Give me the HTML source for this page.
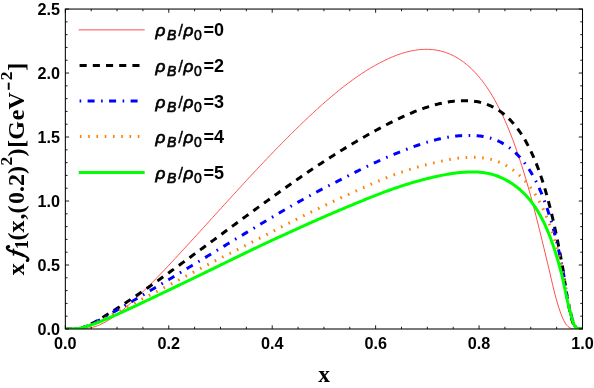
<!DOCTYPE html>
<html><head><meta charset="utf-8"><title>plot</title>
<style>html,body{margin:0;padding:0;background:#fff;}body{width:594px;height:388px;position:relative;overflow:hidden;font-family:"Liberation Sans",sans-serif;}</style>
</head><body>
<svg width="594" height="388" viewBox="0 0 594 388" style="position:absolute;left:0;top:0;will-change:transform">
<clipPath id="c"><rect x="65.35" y="7.050000000000001" width="517.15" height="322.05"/></clipPath>
<g clip-path="url(#c)" fill="none" stroke-linejoin="round">
<path d="M65.50,329.00 L66.79,329.00 L68.08,329.00 L69.38,329.00 L70.67,329.00 L71.96,329.00 L73.25,329.00 L74.55,329.00 L75.84,329.00 L77.13,328.99 L78.42,328.98 L79.72,328.96 L81.01,328.92 L82.30,328.87 L83.59,328.79 L84.89,328.69 L86.18,328.55 L87.47,328.38 L88.77,328.17 L90.06,327.93 L91.35,327.64 L92.64,327.32 L93.94,326.96 L95.23,326.55 L96.52,326.10 L97.81,325.62 L99.11,325.09 L100.40,324.53 L101.69,323.93 L102.98,323.30 L104.28,322.63 L105.57,321.92 L106.86,321.19 L108.15,320.42 L109.44,319.62 L110.74,318.80 L112.03,317.94 L113.32,317.06 L114.62,316.15 L115.91,315.22 L117.20,314.27 L118.49,313.30 L119.78,312.30 L121.08,311.28 L122.37,310.25 L123.66,309.19 L124.96,308.12 L126.25,307.03 L127.54,305.92 L128.83,304.80 L130.12,303.67 L131.42,302.52 L132.71,301.36 L134.00,300.18 L135.30,298.99 L136.59,297.79 L137.88,296.58 L139.17,295.36 L140.46,294.13 L141.76,292.89 L143.05,291.63 L144.34,290.37 L145.63,289.11 L146.93,287.83 L148.22,286.55 L149.51,285.25 L150.81,283.95 L152.10,282.65 L153.39,281.34 L154.68,280.02 L155.98,278.69 L157.27,277.36 L158.56,276.03 L159.85,274.69 L161.14,273.34 L162.44,271.99 L163.73,270.63 L165.02,269.27 L166.31,267.91 L167.61,266.54 L168.90,265.17 L170.19,263.80 L171.49,262.42 L172.78,261.04 L174.07,259.65 L175.36,258.26 L176.66,256.87 L177.95,255.48 L179.24,254.08 L180.53,252.69 L181.82,251.28 L183.12,249.88 L184.41,248.48 L185.70,247.07 L187.00,245.66 L188.29,244.25 L189.58,242.84 L190.87,241.43 L192.16,240.01 L193.46,238.60 L194.75,237.18 L196.04,235.76 L197.34,234.35 L198.63,232.93 L199.92,231.50 L201.21,230.08 L202.50,228.66 L203.80,227.24 L205.09,225.82 L206.38,224.39 L207.68,222.97 L208.97,221.55 L210.26,220.12 L211.55,218.70 L212.85,217.28 L214.14,215.85 L215.43,214.43 L216.72,213.01 L218.01,211.58 L219.31,210.16 L220.60,208.74 L221.89,207.32 L223.19,205.90 L224.48,204.48 L225.77,203.06 L227.06,201.64 L228.35,200.23 L229.65,198.81 L230.94,197.39 L232.23,195.98 L233.53,194.57 L234.82,193.16 L236.11,191.75 L237.40,190.34 L238.70,188.93 L239.99,187.52 L241.28,186.12 L242.57,184.72 L243.87,183.32 L245.16,181.92 L246.45,180.52 L247.74,179.13 L249.03,177.73 L250.33,176.34 L251.62,174.95 L252.91,173.57 L254.20,172.18 L255.50,170.80 L256.79,169.42 L258.08,168.04 L259.38,166.67 L260.67,165.30 L261.96,163.93 L263.25,162.56 L264.55,161.20 L265.84,159.84 L267.13,158.48 L268.42,157.13 L269.72,155.78 L271.01,154.43 L272.30,153.09 L273.59,151.75 L274.88,150.41 L276.18,149.07 L277.47,147.74 L278.76,146.42 L280.06,145.09 L281.35,143.78 L282.64,142.46 L283.93,141.15 L285.23,139.84 L286.52,138.54 L287.81,137.24 L289.10,135.95 L290.39,134.66 L291.69,133.38 L292.98,132.10 L294.27,130.82 L295.56,129.55 L296.86,128.28 L298.15,127.02 L299.44,125.77 L300.74,124.52 L302.03,123.27 L303.32,122.03 L304.61,120.80 L305.90,119.57 L307.20,118.35 L308.49,117.13 L309.78,115.92 L311.08,114.71 L312.37,113.52 L313.66,112.32 L314.95,111.14 L316.25,109.96 L317.54,108.78 L318.83,107.62 L320.12,106.45 L321.41,105.30 L322.71,104.15 L324.00,103.02 L325.29,101.88 L326.58,100.76 L327.88,99.64 L329.17,98.53 L330.46,97.43 L331.75,96.33 L333.05,95.25 L334.34,94.17 L335.63,93.10 L336.93,92.04 L338.22,90.98 L339.51,89.94 L340.80,88.90 L342.10,87.88 L343.39,86.86 L344.68,85.86 L345.97,84.86 L347.27,83.88 L348.56,82.91 L349.85,81.94 L351.14,80.99 L352.44,80.05 L353.73,79.12 L355.02,78.21 L356.31,77.30 L357.61,76.40 L358.90,75.52 L360.19,74.65 L361.48,73.78 L362.78,72.94 L364.07,72.10 L365.36,71.27 L366.65,70.46 L367.94,69.65 L369.24,68.86 L370.53,68.09 L371.82,67.32 L373.12,66.57 L374.41,65.83 L375.70,65.10 L376.99,64.38 L378.28,63.68 L379.58,62.99 L380.87,62.32 L382.16,61.65 L383.45,61.00 L384.75,60.37 L386.04,59.75 L387.33,59.14 L388.62,58.55 L389.92,57.97 L391.21,57.40 L392.50,56.86 L393.80,56.32 L395.09,55.81 L396.38,55.31 L397.67,54.83 L398.97,54.37 L400.26,53.93 L401.55,53.50 L402.84,53.09 L404.13,52.71 L405.43,52.34 L406.72,51.99 L408.01,51.66 L409.31,51.35 L410.60,51.06 L411.89,50.79 L413.18,50.54 L414.48,50.32 L415.77,50.11 L417.06,49.93 L418.35,49.77 L419.65,49.64 L420.94,49.52 L422.23,49.44 L423.52,49.37 L424.82,49.33 L426.11,49.32 L427.40,49.33 L428.69,49.37 L429.98,49.43 L431.28,49.52 L432.57,49.64 L433.86,49.78 L435.15,49.96 L436.45,50.16 L437.74,50.39 L439.03,50.65 L440.32,50.95 L441.62,51.27 L442.91,51.63 L444.20,52.01 L445.50,52.43 L446.79,52.89 L448.08,53.37 L449.37,53.90 L450.67,54.45 L451.96,55.05 L453.25,55.68 L454.54,56.34 L455.83,57.05 L457.13,57.79 L458.42,58.58 L459.71,59.40 L461.00,60.27 L462.30,61.17 L463.59,62.11 L464.88,63.10 L466.18,64.13 L467.47,65.20 L468.76,66.32 L470.05,67.48 L471.35,68.69 L472.64,69.94 L473.93,71.25 L475.22,72.60 L476.52,74.01 L477.81,75.47 L479.10,76.98 L480.39,78.55 L481.69,80.17 L482.98,81.85 L484.27,83.60 L485.56,85.40 L486.86,87.26 L488.15,89.18 L489.44,91.17 L490.73,93.23 L492.03,95.35 L493.32,97.54 L494.61,99.80 L495.90,102.14 L497.19,104.54 L498.49,107.02 L499.78,109.58 L501.07,112.22 L502.37,114.93 L503.66,117.71 L504.95,120.58 L506.24,123.53 L507.53,126.56 L508.83,129.68 L510.12,132.88 L511.41,136.16 L512.70,139.54 L514.00,143.00 L515.29,146.55 L516.58,150.19 L517.88,153.92 L519.17,157.75 L520.46,161.67 L521.75,165.68 L523.05,169.79 L524.34,173.99 L525.63,178.28 L526.92,182.67 L528.22,187.15 L529.51,191.72 L530.80,196.39 L532.09,201.14 L533.38,205.98 L534.68,210.89 L535.97,215.89 L537.26,220.96 L538.56,226.10 L539.85,231.31 L541.14,236.56 L542.43,241.86 L543.73,247.20 L545.02,252.55 L546.31,257.92 L547.60,263.27 L548.89,268.60 L550.11,273.89 L551.30,279.10 L552.49,284.22 L553.68,289.22 L554.88,294.07 L556.15,298.73 L557.44,303.16 L558.74,307.34 L560.03,311.22 L561.32,314.77 L562.61,317.94 L563.90,320.72 L565.20,323.07 L566.49,324.98 L567.97,326.46 L569.39,327.54 L570.77,328.26 L572.12,328.68 L573.44,328.89 L574.74,328.98 L576.04,329.00 L577.33,329.00 L578.62,329.00 L579.91,329.00 L581.21,329.00 L582.50,329.00" stroke="#ff0000" stroke-width="0.7"/>
<path d="M65.50,329.00 L66.79,329.00 L68.08,329.00 L69.38,329.00 L70.67,328.99 L71.96,328.95 L73.25,328.92 L74.55,328.92 L75.84,328.90 L77.13,328.84 L78.42,328.70 L79.72,328.44 L81.01,328.08 L82.30,327.66 L83.59,327.21 L84.89,326.72 L86.18,326.20 L87.47,325.64 L88.77,325.06 L90.06,324.45 L91.35,323.82 L92.64,323.17 L93.94,322.50 L95.23,321.81 L96.52,321.10 L97.81,320.37 L99.11,319.61 L100.40,318.84 L101.69,318.05 L102.98,317.25 L104.28,316.45 L105.57,315.64 L106.86,314.83 L108.15,314.02 L109.44,313.22 L110.74,312.43 L112.03,311.63 L113.32,310.83 L114.62,310.01 L115.91,309.20 L117.20,308.37 L118.49,307.54 L119.78,306.71 L121.08,305.87 L122.37,305.03 L123.66,304.18 L124.96,303.33 L126.25,302.47 L127.54,301.61 L128.83,300.75 L130.12,299.88 L131.42,299.01 L132.71,298.13 L134.00,297.26 L135.30,296.38 L136.59,295.49 L137.88,294.61 L139.17,293.72 L140.46,292.82 L141.76,291.93 L143.05,291.03 L144.34,290.13 L145.63,289.23 L146.93,288.33 L148.22,287.42 L149.51,286.52 L150.81,285.61 L152.10,284.70 L153.39,283.78 L154.68,282.87 L155.98,281.95 L157.27,281.03 L158.56,280.11 L159.85,279.19 L161.14,278.27 L162.44,277.34 L163.73,276.42 L165.02,275.49 L166.31,274.56 L167.61,273.63 L168.90,272.70 L170.19,271.77 L171.49,270.84 L172.78,269.90 L174.07,268.97 L175.36,268.03 L176.66,267.09 L177.95,266.15 L179.24,265.21 L180.53,264.27 L181.82,263.33 L183.12,262.39 L184.41,261.45 L185.70,260.51 L187.00,259.56 L188.29,258.62 L189.58,257.67 L190.87,256.73 L192.16,255.78 L193.46,254.84 L194.75,253.89 L196.04,252.94 L197.34,251.99 L198.63,251.04 L199.92,250.09 L201.21,249.15 L202.50,248.20 L203.80,247.25 L205.09,246.30 L206.38,245.35 L207.68,244.39 L208.97,243.44 L210.26,242.49 L211.55,241.54 L212.85,240.59 L214.14,239.64 L215.43,238.69 L216.72,237.74 L218.01,236.78 L219.31,235.83 L220.60,234.88 L221.89,233.93 L223.19,232.98 L224.48,232.03 L225.77,231.08 L227.06,230.12 L228.35,229.17 L229.65,228.22 L230.94,227.27 L232.23,226.32 L233.53,225.37 L234.82,224.42 L236.11,223.47 L237.40,222.53 L238.70,221.58 L239.99,220.63 L241.28,219.68 L242.57,218.73 L243.87,217.79 L245.16,216.84 L246.45,215.90 L247.74,214.95 L249.03,214.01 L250.33,213.06 L251.62,212.12 L252.91,211.18 L254.20,210.24 L255.50,209.29 L256.79,208.35 L258.08,207.41 L259.38,206.48 L260.67,205.54 L261.96,204.60 L263.25,203.66 L264.55,202.73 L265.84,201.79 L267.13,200.86 L268.42,199.93 L269.72,199.00 L271.01,198.07 L272.30,197.14 L273.59,196.21 L274.88,195.28 L276.18,194.35 L277.47,193.43 L278.76,192.51 L280.06,191.58 L281.35,190.66 L282.64,189.74 L283.93,188.82 L285.23,187.91 L286.52,186.99 L287.81,186.08 L289.10,185.17 L290.39,184.25 L291.69,183.34 L292.98,182.44 L294.27,181.53 L295.56,180.62 L296.86,179.72 L298.15,178.82 L299.44,177.92 L300.74,177.02 L302.03,176.13 L303.32,175.24 L304.61,174.35 L305.90,173.47 L307.20,172.59 L308.49,171.71 L309.78,170.84 L311.08,169.97 L312.37,169.11 L313.66,168.24 L314.95,167.38 L316.25,166.53 L317.54,165.68 L318.83,164.83 L320.12,163.98 L321.41,163.14 L322.71,162.29 L324.00,161.46 L325.29,160.62 L326.58,159.79 L327.88,158.96 L329.17,158.13 L330.46,157.30 L331.75,156.48 L333.05,155.66 L334.34,154.84 L335.63,154.03 L336.93,153.21 L338.22,152.40 L339.51,151.59 L340.80,150.79 L342.10,149.99 L343.39,149.19 L344.68,148.39 L345.97,147.60 L347.27,146.82 L348.56,146.03 L349.85,145.26 L351.14,144.48 L352.44,143.71 L353.73,142.95 L355.02,142.18 L356.31,141.42 L357.61,140.67 L358.90,139.92 L360.19,139.17 L361.48,138.42 L362.78,137.68 L364.07,136.94 L365.36,136.21 L366.65,135.48 L367.94,134.75 L369.24,134.03 L370.53,133.31 L371.82,132.59 L373.12,131.88 L374.41,131.17 L375.70,130.46 L376.99,129.76 L378.28,129.06 L379.58,128.36 L380.87,127.67 L382.16,126.98 L383.45,126.30 L384.75,125.62 L386.04,124.94 L387.33,124.28 L388.62,123.61 L389.92,122.96 L391.21,122.30 L392.50,121.66 L393.80,121.02 L395.09,120.38 L396.38,119.76 L397.67,119.13 L398.97,118.52 L400.26,117.91 L401.55,117.31 L402.84,116.72 L404.13,116.13 L405.43,115.55 L406.72,114.98 L408.01,114.42 L409.31,113.87 L410.60,113.32 L411.89,112.78 L413.18,112.25 L414.48,111.73 L415.77,111.22 L417.06,110.72 L418.35,110.23 L419.65,109.74 L420.94,109.27 L422.23,108.81 L423.52,108.35 L424.82,107.91 L426.11,107.48 L427.40,107.06 L428.69,106.65 L429.98,106.25 L431.28,105.87 L432.57,105.49 L433.86,105.13 L435.15,104.78 L436.45,104.44 L437.74,104.11 L439.03,103.80 L440.32,103.50 L441.62,103.21 L442.91,102.93 L444.20,102.67 L445.50,102.43 L446.79,102.20 L448.08,101.98 L449.37,101.78 L450.67,101.59 L451.96,101.42 L453.25,101.27 L454.54,101.13 L455.83,101.01 L457.13,100.91 L458.42,100.83 L459.71,100.76 L461.00,100.71 L462.30,100.68 L463.59,100.66 L464.88,100.66 L466.18,100.67 L467.47,100.71 L468.76,100.77 L470.05,100.84 L471.35,100.94 L472.64,101.07 L473.93,101.22 L475.22,101.39 L476.52,101.59 L477.81,101.82 L479.10,102.08 L480.39,102.37 L481.69,102.69 L482.98,103.04 L484.27,103.43 L485.56,103.85 L486.86,104.31 L488.15,104.81 L489.44,105.35 L490.73,105.93 L492.03,106.55 L493.32,107.21 L494.61,107.91 L495.90,108.65 L497.19,109.43 L498.49,110.25 L499.78,111.12 L501.07,112.04 L502.37,113.01 L503.66,114.02 L504.95,115.09 L506.24,116.21 L507.53,117.39 L508.83,118.63 L510.12,119.93 L511.41,121.28 L512.70,122.71 L514.00,124.20 L515.29,125.76 L516.58,127.39 L517.88,129.09 L519.17,130.88 L520.46,132.74 L521.75,134.69 L523.05,136.73 L524.34,138.86 L525.63,141.09 L526.92,143.41 L528.22,145.84 L529.51,148.37 L530.80,151.02 L532.09,153.79 L533.38,156.67 L534.68,159.69 L535.97,162.84 L537.26,166.12 L538.56,169.55 L539.85,173.14 L541.14,176.88 L542.43,180.78 L543.73,184.86 L545.02,189.12 L546.31,193.56 L547.60,198.19 L548.89,203.02 L550.19,208.05 L551.48,213.30 L552.77,218.76 L554.07,224.44 L555.36,230.35 L556.65,236.47 L557.94,242.81 L559.24,249.36 L560.53,256.10 L561.82,263.02 L563.11,270.07 L564.12,277.22 L565.12,284.41 L566.13,291.54 L567.28,298.52 L568.58,305.20 L569.87,311.40 L571.16,316.94 L572.45,321.57 L573.77,325.11 L575.64,327.42 L577.23,328.59 L578.61,328.96 L579.91,329.00 L581.21,329.00 L582.50,329.00" stroke="#000" stroke-width="3.0" stroke-dasharray="7.1,6.1"/>
<path d="M65.50,329.00 L66.79,329.00 L68.08,329.00 L69.38,329.00 L70.67,328.99 L71.96,328.96 L73.25,328.94 L74.55,328.94 L75.84,328.94 L77.13,328.88 L78.42,328.75 L79.72,328.50 L81.01,328.14 L82.30,327.74 L83.59,327.30 L84.89,326.83 L86.18,326.34 L87.47,325.81 L88.77,325.26 L90.06,324.69 L91.35,324.11 L92.64,323.50 L93.94,322.88 L95.23,322.25 L96.52,321.60 L97.81,320.94 L99.11,320.27 L100.40,319.57 L101.69,318.86 L102.98,318.12 L104.28,317.38 L105.57,316.62 L106.86,315.86 L108.15,315.10 L109.44,314.33 L110.74,313.57 L112.03,312.81 L113.32,312.06 L114.62,311.33 L115.91,310.60 L117.20,309.87 L118.49,309.14 L119.78,308.41 L121.08,307.67 L122.37,306.93 L123.66,306.19 L124.96,305.45 L126.25,304.71 L127.54,303.96 L128.83,303.21 L130.12,302.46 L131.42,301.71 L132.71,300.96 L134.00,300.21 L135.30,299.45 L136.59,298.70 L137.88,297.94 L139.17,297.18 L140.46,296.42 L141.76,295.66 L143.05,294.90 L144.34,294.14 L145.63,293.37 L146.93,292.61 L148.22,291.84 L149.51,291.08 L150.81,290.31 L152.10,289.54 L153.39,288.77 L154.68,288.00 L155.98,287.23 L157.27,286.46 L158.56,285.69 L159.85,284.92 L161.14,284.15 L162.44,283.38 L163.73,282.60 L165.02,281.83 L166.31,281.05 L167.61,280.28 L168.90,279.50 L170.19,278.73 L171.49,277.95 L172.78,277.17 L174.07,276.40 L175.36,275.62 L176.66,274.84 L177.95,274.06 L179.24,273.28 L180.53,272.50 L181.82,271.72 L183.12,270.95 L184.41,270.16 L185.70,269.38 L187.00,268.60 L188.29,267.82 L189.58,267.04 L190.87,266.26 L192.16,265.48 L193.46,264.69 L194.75,263.91 L196.04,263.13 L197.34,262.35 L198.63,261.56 L199.92,260.78 L201.21,260.00 L202.50,259.21 L203.80,258.43 L205.09,257.65 L206.38,256.86 L207.68,256.08 L208.97,255.30 L210.26,254.51 L211.55,253.73 L212.85,252.94 L214.14,252.16 L215.43,251.38 L216.72,250.59 L218.01,249.81 L219.31,249.02 L220.60,248.24 L221.89,247.46 L223.19,246.67 L224.48,245.89 L225.77,245.10 L227.06,244.32 L228.35,243.54 L229.65,242.75 L230.94,241.97 L232.23,241.19 L233.53,240.41 L234.82,239.62 L236.11,238.84 L237.40,238.06 L238.70,237.28 L239.99,236.50 L241.28,235.72 L242.57,234.94 L243.87,234.16 L245.16,233.38 L246.45,232.60 L247.74,231.82 L249.03,231.04 L250.33,230.26 L251.62,229.48 L252.91,228.70 L254.20,227.93 L255.50,227.15 L256.79,226.37 L258.08,225.60 L259.38,224.82 L260.67,224.05 L261.96,223.28 L263.25,222.50 L264.55,221.73 L265.84,220.96 L267.13,220.19 L268.42,219.42 L269.72,218.65 L271.01,217.88 L272.30,217.11 L273.59,216.34 L274.88,215.58 L276.18,214.81 L277.47,214.05 L278.76,213.28 L280.06,212.52 L281.35,211.76 L282.64,211.00 L283.93,210.25 L285.23,209.49 L286.52,208.75 L287.81,208.00 L289.10,207.26 L290.39,206.52 L291.69,205.78 L292.98,205.05 L294.27,204.32 L295.56,203.59 L296.86,202.86 L298.15,202.14 L299.44,201.42 L300.74,200.70 L302.03,199.98 L303.32,199.27 L304.61,198.56 L305.90,197.85 L307.20,197.14 L308.49,196.43 L309.78,195.73 L311.08,195.03 L312.37,194.33 L313.66,193.63 L314.95,192.93 L316.25,192.23 L317.54,191.54 L318.83,190.85 L320.12,190.16 L321.41,189.47 L322.71,188.79 L324.00,188.11 L325.29,187.45 L326.58,186.78 L327.88,186.12 L329.17,185.47 L330.46,184.81 L331.75,184.16 L333.05,183.51 L334.34,182.86 L335.63,182.22 L336.93,181.57 L338.22,180.92 L339.51,180.27 L340.80,179.61 L342.10,178.95 L343.39,178.29 L344.68,177.63 L345.97,176.96 L347.27,176.29 L348.56,175.63 L349.85,174.97 L351.14,174.31 L352.44,173.65 L353.73,173.00 L355.02,172.35 L356.31,171.70 L357.61,171.06 L358.90,170.42 L360.19,169.78 L361.48,169.14 L362.78,168.51 L364.07,167.88 L365.36,167.25 L366.65,166.63 L367.94,166.01 L369.24,165.39 L370.53,164.78 L371.82,164.17 L373.12,163.56 L374.41,162.96 L375.70,162.36 L376.99,161.76 L378.28,161.17 L379.58,160.58 L380.87,160.00 L382.16,159.42 L383.45,158.85 L384.75,158.27 L386.04,157.71 L387.33,157.14 L388.62,156.59 L389.92,156.03 L391.21,155.48 L392.50,154.94 L393.80,154.40 L395.09,153.87 L396.38,153.34 L397.67,152.81 L398.97,152.29 L400.26,151.78 L401.55,151.27 L402.84,150.76 L404.13,150.25 L405.43,149.75 L406.72,149.26 L408.01,148.76 L409.31,148.27 L410.60,147.79 L411.89,147.31 L413.18,146.84 L414.48,146.37 L415.77,145.91 L417.06,145.46 L418.35,145.01 L419.65,144.57 L420.94,144.13 L422.23,143.71 L423.52,143.29 L424.82,142.88 L426.11,142.48 L427.40,142.09 L428.69,141.71 L429.98,141.34 L431.28,140.98 L432.57,140.62 L433.86,140.28 L435.15,139.95 L436.45,139.63 L437.74,139.31 L439.03,139.01 L440.32,138.72 L441.62,138.44 L442.91,138.16 L444.20,137.90 L445.50,137.66 L446.79,137.42 L448.08,137.19 L449.37,136.98 L450.67,136.78 L451.96,136.59 L453.25,136.41 L454.54,136.25 L455.83,136.10 L457.13,135.96 L458.42,135.83 L459.71,135.72 L461.00,135.63 L462.30,135.55 L463.59,135.48 L464.88,135.43 L466.18,135.40 L467.47,135.38 L468.76,135.38 L470.05,135.39 L471.35,135.42 L472.64,135.47 L473.93,135.53 L475.22,135.61 L476.52,135.70 L477.81,135.81 L479.10,135.94 L480.39,136.10 L481.69,136.27 L482.98,136.47 L484.27,136.69 L485.56,136.94 L486.86,137.22 L488.15,137.52 L489.44,137.86 L490.73,138.22 L492.03,138.62 L493.32,139.05 L494.61,139.52 L495.90,140.02 L497.19,140.56 L498.49,141.15 L499.78,141.77 L501.07,142.44 L502.37,143.14 L503.66,143.89 L504.95,144.67 L506.24,145.50 L507.53,146.38 L508.83,147.29 L510.12,148.26 L511.41,149.28 L512.70,150.34 L514.00,151.46 L515.29,152.64 L516.58,153.88 L517.88,155.17 L519.17,156.53 L520.46,157.95 L521.75,159.44 L523.05,161.01 L524.34,162.65 L525.63,164.36 L526.92,166.16 L528.22,168.04 L529.51,170.01 L530.80,172.08 L532.09,174.24 L533.38,176.50 L534.68,178.87 L535.97,181.36 L537.26,183.96 L538.56,186.68 L539.85,189.53 L541.14,192.52 L542.43,195.66 L543.73,198.94 L545.02,202.38 L546.31,205.98 L547.60,209.76 L548.89,213.71 L550.19,217.86 L551.48,222.19 L552.77,226.74 L554.07,231.49 L555.36,236.46 L556.65,241.65 L557.94,247.06 L559.24,252.70 L560.53,258.56 L561.82,264.63 L563.08,270.89 L564.11,277.31 L565.14,283.85 L566.17,290.45 L567.28,297.03 L568.58,303.46 L569.87,309.60 L571.16,315.24 L572.45,320.15 L573.75,324.09 L575.50,326.85 L577.17,328.38 L578.60,328.92 L579.91,329.00 L581.21,329.00 L582.50,329.00" stroke="#0000ff" stroke-width="3.0" stroke-dasharray="1.6,6.4,7.0,6.5"/>
<path d="M65.50,329.00 L66.79,329.00 L68.08,329.00 L69.38,329.00 L70.67,328.99 L71.96,328.97 L73.25,328.96 L74.55,328.98 L75.84,328.99 L77.13,328.96 L78.42,328.85 L79.72,328.63 L81.01,328.30 L82.30,327.94 L83.59,327.54 L84.89,327.12 L86.18,326.67 L87.47,326.20 L88.77,325.70 L90.06,325.19 L91.35,324.67 L92.64,324.13 L93.94,323.58 L95.23,323.01 L96.52,322.44 L97.81,321.86 L99.11,321.27 L100.40,320.67 L101.69,320.05 L102.98,319.41 L104.28,318.75 L105.57,318.07 L106.86,317.38 L108.15,316.68 L109.44,315.97 L110.74,315.26 L112.03,314.56 L113.32,313.86 L114.62,313.16 L115.91,312.48 L117.20,311.81 L118.49,311.16 L119.78,310.51 L121.08,309.86 L122.37,309.21 L123.66,308.56 L124.96,307.90 L126.25,307.25 L127.54,306.59 L128.83,305.93 L130.12,305.27 L131.42,304.61 L132.71,303.95 L134.00,303.29 L135.30,302.62 L136.59,301.96 L137.88,301.29 L139.17,300.63 L140.46,299.96 L141.76,299.29 L143.05,298.63 L144.34,297.96 L145.63,297.29 L146.93,296.62 L148.22,295.95 L149.51,295.28 L150.81,294.61 L152.10,293.93 L153.39,293.26 L154.68,292.59 L155.98,291.92 L157.27,291.24 L158.56,290.57 L159.85,289.89 L161.14,289.22 L162.44,288.54 L163.73,287.86 L165.02,287.19 L166.31,286.51 L167.61,285.83 L168.90,285.15 L170.19,284.48 L171.49,283.80 L172.78,283.12 L174.07,282.44 L175.36,281.76 L176.66,281.08 L177.95,280.40 L179.24,279.71 L180.53,279.03 L181.82,278.35 L183.12,277.67 L184.41,276.99 L185.70,276.30 L187.00,275.62 L188.29,274.94 L189.58,274.25 L190.87,273.57 L192.16,272.88 L193.46,272.20 L194.75,271.51 L196.04,270.83 L197.34,270.14 L198.63,269.46 L199.92,268.77 L201.21,268.09 L202.50,267.40 L203.80,266.72 L205.09,266.05 L206.38,265.37 L207.68,264.70 L208.97,264.03 L210.26,263.36 L211.55,262.69 L212.85,262.02 L214.14,261.36 L215.43,260.69 L216.72,260.03 L218.01,259.37 L219.31,258.71 L220.60,258.05 L221.89,257.40 L223.19,256.74 L224.48,256.08 L225.77,255.43 L227.06,254.78 L228.35,254.12 L229.65,253.47 L230.94,252.82 L232.23,252.16 L233.53,251.51 L234.82,250.86 L236.11,250.21 L237.40,249.56 L238.70,248.90 L239.99,248.25 L241.28,247.60 L242.57,246.95 L243.87,246.29 L245.16,245.64 L246.45,244.98 L247.74,244.33 L249.03,243.67 L250.33,243.01 L251.62,242.35 L252.91,241.69 L254.20,241.03 L255.50,240.37 L256.79,239.70 L258.08,239.04 L259.38,238.37 L260.67,237.70 L261.96,237.03 L263.25,236.37 L264.55,235.70 L265.84,235.03 L267.13,234.36 L268.42,233.69 L269.72,233.02 L271.01,232.35 L272.30,231.69 L273.59,231.02 L274.88,230.35 L276.18,229.68 L277.47,229.02 L278.76,228.35 L280.06,227.69 L281.35,227.02 L282.64,226.36 L283.93,225.70 L285.23,225.03 L286.52,224.37 L287.81,223.71 L289.10,223.05 L290.39,222.40 L291.69,221.74 L292.98,221.08 L294.27,220.43 L295.56,219.78 L296.86,219.12 L298.15,218.47 L299.44,217.82 L300.74,217.18 L302.03,216.53 L303.32,215.89 L304.61,215.25 L305.90,214.61 L307.20,213.97 L308.49,213.33 L309.78,212.70 L311.08,212.07 L312.37,211.44 L313.66,210.81 L314.95,210.18 L316.25,209.56 L317.54,208.93 L318.83,208.31 L320.12,207.69 L321.41,207.07 L322.71,206.45 L324.00,205.84 L325.29,205.22 L326.58,204.61 L327.88,204.00 L329.17,203.39 L330.46,202.78 L331.75,202.17 L333.05,201.57 L334.34,200.96 L335.63,200.36 L336.93,199.76 L338.22,199.16 L339.51,198.56 L340.80,197.96 L342.10,197.36 L343.39,196.77 L344.68,196.17 L345.97,195.58 L347.27,194.98 L348.56,194.39 L349.85,193.80 L351.14,193.21 L352.44,192.62 L353.73,192.03 L355.02,191.44 L356.31,190.86 L357.61,190.27 L358.90,189.68 L360.19,189.10 L361.48,188.52 L362.78,187.93 L364.07,187.35 L365.36,186.78 L366.65,186.20 L367.94,185.63 L369.24,185.06 L370.53,184.49 L371.82,183.92 L373.12,183.36 L374.41,182.80 L375.70,182.25 L376.99,181.70 L378.28,181.15 L379.58,180.60 L380.87,180.06 L382.16,179.53 L383.45,179.00 L384.75,178.47 L386.04,177.95 L387.33,177.43 L388.62,176.92 L389.92,176.42 L391.21,175.92 L392.50,175.42 L393.80,174.94 L395.09,174.45 L396.38,173.98 L397.67,173.51 L398.97,173.05 L400.26,172.60 L401.55,172.15 L402.84,171.71 L404.13,171.27 L405.43,170.84 L406.72,170.42 L408.01,170.00 L409.31,169.59 L410.60,169.18 L411.89,168.78 L413.18,168.39 L414.48,168.00 L415.77,167.62 L417.06,167.25 L418.35,166.88 L419.65,166.51 L420.94,166.16 L422.23,165.81 L423.52,165.46 L424.82,165.12 L426.11,164.79 L427.40,164.47 L428.69,164.15 L429.98,163.83 L431.28,163.52 L432.57,163.21 L433.86,162.91 L435.15,162.60 L436.45,162.30 L437.74,162.00 L439.03,161.70 L440.32,161.41 L441.62,161.12 L442.91,160.84 L444.20,160.57 L445.50,160.30 L446.79,160.04 L448.08,159.78 L449.37,159.54 L450.67,159.30 L451.96,159.08 L453.25,158.87 L454.54,158.66 L455.83,158.47 L457.13,158.30 L458.42,158.13 L459.71,157.98 L461.00,157.85 L462.30,157.73 L463.59,157.63 L464.88,157.55 L466.18,157.48 L467.47,157.42 L468.76,157.38 L470.05,157.34 L471.35,157.33 L472.64,157.33 L473.93,157.34 L475.22,157.37 L476.52,157.42 L477.81,157.48 L479.10,157.57 L480.39,157.68 L481.69,157.80 L482.98,157.95 L484.27,158.12 L485.56,158.32 L486.86,158.54 L488.15,158.79 L489.44,159.06 L490.73,159.36 L492.03,159.69 L493.32,160.06 L494.61,160.45 L495.90,160.88 L497.19,161.34 L498.49,161.84 L499.78,162.37 L501.07,162.94 L502.37,163.54 L503.66,164.19 L504.95,164.87 L506.24,165.58 L507.53,166.34 L508.83,167.14 L510.12,167.97 L511.41,168.85 L512.70,169.77 L514.00,170.73 L515.29,171.74 L516.58,172.79 L517.88,173.89 L519.17,175.03 L520.46,176.23 L521.75,177.48 L523.05,178.78 L524.34,180.14 L525.63,181.55 L526.92,183.03 L528.22,184.59 L529.51,186.22 L530.80,187.93 L532.09,189.71 L533.38,191.59 L534.68,193.56 L535.97,195.62 L537.26,197.78 L538.56,200.05 L539.85,202.43 L541.14,204.92 L542.43,207.54 L543.73,210.29 L545.02,213.18 L546.31,216.21 L547.60,219.39 L548.89,222.73 L550.19,226.23 L551.48,229.92 L552.77,233.79 L554.07,237.85 L555.36,242.12 L556.65,246.59 L557.94,251.28 L559.24,256.19 L560.53,261.32 L561.82,266.67 L563.02,272.24 L564.08,278.00 L565.14,283.94 L566.19,290.00 L567.28,296.12 L568.58,302.22 L569.87,308.16 L571.16,313.77 L572.45,318.83 L573.75,323.06 L575.34,326.20 L577.10,328.09 L578.59,328.86 L579.91,329.00 L581.21,329.00 L582.50,329.00" stroke="#ff8000" stroke-width="3.0" stroke-dasharray="1.6,6.67"/>
<path d="M65.50,329.00 L66.79,329.00 L68.08,329.00 L69.38,329.00 L70.67,328.99 L71.96,328.97 L73.25,328.92 L74.55,328.84 L75.84,328.72 L77.13,328.57 L78.42,328.37 L79.72,328.14 L81.01,327.88 L82.30,327.59 L83.59,327.27 L84.89,326.92 L86.18,326.56 L87.47,326.17 L88.77,325.76 L90.06,325.34 L91.35,324.90 L92.64,324.45 L93.94,323.99 L95.23,323.51 L96.52,323.03 L97.81,322.53 L99.11,322.03 L100.40,321.52 L101.69,321.00 L102.98,320.47 L104.28,319.94 L105.57,319.40 L106.86,318.86 L108.15,318.31 L109.44,317.75 L110.74,317.20 L112.03,316.63 L113.32,316.07 L114.62,315.50 L115.91,314.92 L117.20,314.35 L118.49,313.77 L119.78,313.19 L121.08,312.60 L122.37,312.02 L123.66,311.43 L124.96,310.83 L126.25,310.24 L127.54,309.64 L128.83,309.04 L130.12,308.44 L131.42,307.84 L132.71,307.24 L134.00,306.63 L135.30,306.03 L136.59,305.42 L137.88,304.81 L139.17,304.20 L140.46,303.58 L141.76,302.97 L143.05,302.36 L144.34,301.74 L145.63,301.13 L146.93,300.51 L148.22,299.90 L149.51,299.29 L150.81,298.67 L152.10,298.06 L153.39,297.44 L154.68,296.83 L155.98,296.21 L157.27,295.60 L158.56,294.98 L159.85,294.37 L161.14,293.75 L162.44,293.14 L163.73,292.52 L165.02,291.90 L166.31,291.29 L167.61,290.67 L168.90,290.05 L170.19,289.43 L171.49,288.82 L172.78,288.20 L174.07,287.58 L175.36,286.96 L176.66,286.34 L177.95,285.72 L179.24,285.10 L180.53,284.48 L181.82,283.86 L183.12,283.24 L184.41,282.62 L185.70,282.00 L187.00,281.38 L188.29,280.75 L189.58,280.13 L190.87,279.50 L192.16,278.88 L193.46,278.25 L194.75,277.63 L196.04,277.00 L197.34,276.37 L198.63,275.75 L199.92,275.12 L201.21,274.49 L202.50,273.86 L203.80,273.23 L205.09,272.60 L206.38,271.97 L207.68,271.34 L208.97,270.71 L210.26,270.07 L211.55,269.44 L212.85,268.81 L214.14,268.18 L215.43,267.55 L216.72,266.92 L218.01,266.29 L219.31,265.65 L220.60,265.02 L221.89,264.39 L223.19,263.76 L224.48,263.13 L225.77,262.50 L227.06,261.87 L228.35,261.24 L229.65,260.61 L230.94,259.98 L232.23,259.35 L233.53,258.72 L234.82,258.09 L236.11,257.46 L237.40,256.83 L238.70,256.21 L239.99,255.58 L241.28,254.95 L242.57,254.33 L243.87,253.70 L245.16,253.08 L246.45,252.45 L247.74,251.83 L249.03,251.21 L250.33,250.58 L251.62,249.96 L252.91,249.34 L254.20,248.72 L255.50,248.10 L256.79,247.48 L258.08,246.87 L259.38,246.25 L260.67,245.64 L261.96,245.02 L263.25,244.41 L264.55,243.80 L265.84,243.20 L267.13,242.59 L268.42,241.99 L269.72,241.39 L271.01,240.79 L272.30,240.19 L273.59,239.59 L274.88,238.99 L276.18,238.40 L277.47,237.80 L278.76,237.21 L280.06,236.62 L281.35,236.03 L282.64,235.44 L283.93,234.85 L285.23,234.26 L286.52,233.67 L287.81,233.08 L289.10,232.50 L290.39,231.91 L291.69,231.32 L292.98,230.73 L294.27,230.15 L295.56,229.56 L296.86,228.97 L298.15,228.39 L299.44,227.80 L300.74,227.21 L302.03,226.62 L303.32,226.04 L304.61,225.46 L305.90,224.87 L307.20,224.29 L308.49,223.71 L309.78,223.14 L311.08,222.56 L312.37,221.98 L313.66,221.41 L314.95,220.84 L316.25,220.27 L317.54,219.70 L318.83,219.13 L320.12,218.56 L321.41,217.99 L322.71,217.43 L324.00,216.87 L325.29,216.30 L326.58,215.74 L327.88,215.18 L329.17,214.63 L330.46,214.07 L331.75,213.51 L333.05,212.96 L334.34,212.40 L335.63,211.85 L336.93,211.30 L338.22,210.75 L339.51,210.20 L340.80,209.66 L342.10,209.11 L343.39,208.57 L344.68,208.02 L345.97,207.48 L347.27,206.94 L348.56,206.40 L349.85,205.86 L351.14,205.33 L352.44,204.79 L353.73,204.25 L355.02,203.72 L356.31,203.19 L357.61,202.65 L358.90,202.12 L360.19,201.59 L361.48,201.06 L362.78,200.54 L364.07,200.01 L365.36,199.49 L366.65,198.97 L367.94,198.45 L369.24,197.93 L370.53,197.41 L371.82,196.90 L373.12,196.39 L374.41,195.88 L375.70,195.38 L376.99,194.87 L378.28,194.37 L379.58,193.88 L380.87,193.38 L382.16,192.89 L383.45,192.41 L384.75,191.92 L386.04,191.44 L387.33,190.97 L388.62,190.50 L389.92,190.03 L391.21,189.56 L392.50,189.11 L393.80,188.65 L395.09,188.20 L396.38,187.75 L397.67,187.31 L398.97,186.88 L400.26,186.45 L401.55,186.02 L402.84,185.60 L404.13,185.19 L405.43,184.77 L406.72,184.37 L408.01,183.97 L409.31,183.57 L410.60,183.18 L411.89,182.79 L413.18,182.41 L414.48,182.04 L415.77,181.67 L417.06,181.30 L418.35,180.94 L419.65,180.59 L420.94,180.24 L422.23,179.89 L423.52,179.55 L424.82,179.22 L426.11,178.89 L427.40,178.57 L428.69,178.25 L429.98,177.94 L431.28,177.63 L432.57,177.33 L433.86,177.03 L435.15,176.74 L436.45,176.45 L437.74,176.17 L439.03,175.89 L440.32,175.62 L441.62,175.36 L442.91,175.10 L444.20,174.85 L445.50,174.61 L446.79,174.38 L448.08,174.15 L449.37,173.94 L450.67,173.73 L451.96,173.53 L453.25,173.35 L454.54,173.17 L455.83,173.00 L457.13,172.85 L458.42,172.71 L459.71,172.58 L461.00,172.46 L462.30,172.36 L463.59,172.27 L464.88,172.19 L466.18,172.13 L467.47,172.07 L468.76,172.03 L470.05,172.00 L471.35,171.98 L472.64,171.98 L473.93,171.99 L475.22,172.01 L476.52,172.06 L477.81,172.12 L479.10,172.20 L480.39,172.30 L481.69,172.43 L482.98,172.57 L484.27,172.74 L485.56,172.94 L486.86,173.16 L488.15,173.40 L489.44,173.68 L490.73,173.99 L492.03,174.33 L493.32,174.70 L494.61,175.10 L495.90,175.53 L497.19,175.99 L498.49,176.49 L499.78,177.01 L501.07,177.57 L502.37,178.16 L503.66,178.78 L504.95,179.44 L506.24,180.13 L507.53,180.85 L508.83,181.61 L510.12,182.40 L511.41,183.23 L512.70,184.10 L514.00,185.00 L515.29,185.94 L516.58,186.92 L517.88,187.94 L519.17,189.00 L520.46,190.11 L521.75,191.27 L523.05,192.48 L524.34,193.76 L525.63,195.09 L526.92,196.49 L528.22,197.96 L529.51,199.50 L530.80,201.11 L532.09,202.80 L533.38,204.57 L534.68,206.43 L535.97,208.38 L537.26,210.42 L538.56,212.56 L539.85,214.81 L541.14,217.17 L542.43,219.64 L543.73,222.23 L545.02,224.95 L546.31,227.81 L547.60,230.81 L548.89,233.95 L550.19,237.25 L551.48,240.71 L552.77,244.34 L554.07,248.15 L555.36,252.14 L556.65,256.32 L557.94,260.69 L559.24,265.25 L560.53,270.00 L561.82,274.94 L562.97,280.05 L564.12,285.32 L565.26,290.70 L566.40,296.17 L567.58,301.63 L568.88,307.02 L570.17,312.18 L571.46,316.98 L572.75,321.19 L574.04,324.61 L575.69,327.04 L577.23,328.42 L578.61,328.92 L579.91,329.00 L581.21,329.00 L582.50,329.00" stroke="#00ff00" stroke-width="3.0"/>
</g>
<rect x="65.35" y="9.05" width="517.15" height="319.95" fill="none" stroke="#000" stroke-width="1.05"/>
<path d="M65.35,329.0 v-3.7 M65.35,9.05 v3.7 M91.21,329.0 v-2.2 M91.21,9.05 v2.2 M117.06,329.0 v-2.2 M117.06,9.05 v2.2 M142.92,329.0 v-2.2 M142.92,9.05 v2.2 M168.78,329.0 v-3.7 M168.78,9.05 v3.7 M194.64,329.0 v-2.2 M194.64,9.05 v2.2 M220.49,329.0 v-2.2 M220.49,9.05 v2.2 M246.35,329.0 v-2.2 M246.35,9.05 v2.2 M272.21,329.0 v-3.7 M272.21,9.05 v3.7 M298.07,329.0 v-2.2 M298.07,9.05 v2.2 M323.92,329.0 v-2.2 M323.92,9.05 v2.2 M349.78,329.0 v-2.2 M349.78,9.05 v2.2 M375.64,329.0 v-3.7 M375.64,9.05 v3.7 M401.50,329.0 v-2.2 M401.50,9.05 v2.2 M427.36,329.0 v-2.2 M427.36,9.05 v2.2 M453.21,329.0 v-2.2 M453.21,9.05 v2.2 M479.07,329.0 v-3.7 M479.07,9.05 v3.7 M504.93,329.0 v-2.2 M504.93,9.05 v2.2 M530.78,329.0 v-2.2 M530.78,9.05 v2.2 M556.64,329.0 v-2.2 M556.64,9.05 v2.2 M582.50,329.0 v-3.7 M582.50,9.05 v3.7 M65.35,329.00 h3.7 M582.5,329.00 h-3.7 M65.35,316.20 h2.2 M582.5,316.20 h-2.2 M65.35,303.40 h2.2 M582.5,303.40 h-2.2 M65.35,290.61 h2.2 M582.5,290.61 h-2.2 M65.35,277.81 h2.2 M582.5,277.81 h-2.2 M65.35,265.01 h3.7 M582.5,265.01 h-3.7 M65.35,252.21 h2.2 M582.5,252.21 h-2.2 M65.35,239.41 h2.2 M582.5,239.41 h-2.2 M65.35,226.62 h2.2 M582.5,226.62 h-2.2 M65.35,213.82 h2.2 M582.5,213.82 h-2.2 M65.35,201.02 h3.7 M582.5,201.02 h-3.7 M65.35,188.22 h2.2 M582.5,188.22 h-2.2 M65.35,175.42 h2.2 M582.5,175.42 h-2.2 M65.35,162.63 h2.2 M582.5,162.63 h-2.2 M65.35,149.83 h2.2 M582.5,149.83 h-2.2 M65.35,137.03 h3.7 M582.5,137.03 h-3.7 M65.35,124.23 h2.2 M582.5,124.23 h-2.2 M65.35,111.43 h2.2 M582.5,111.43 h-2.2 M65.35,98.64 h2.2 M582.5,98.64 h-2.2 M65.35,85.84 h2.2 M582.5,85.84 h-2.2 M65.35,73.04 h3.7 M582.5,73.04 h-3.7 M65.35,60.24 h2.2 M582.5,60.24 h-2.2 M65.35,47.44 h2.2 M582.5,47.44 h-2.2 M65.35,34.65 h2.2 M582.5,34.65 h-2.2 M65.35,21.85 h2.2 M582.5,21.85 h-2.2 M65.35,9.05 h3.7 M582.5,9.05 h-3.7" stroke="#000" stroke-width="0.9" fill="none"/>
<path d="M78.7,29.85 H144.7" stroke="#ff0000" stroke-width="0.7"/>
<path d="M79.60000000000001,65.4 H144.7" stroke="#000" stroke-width="3.0" stroke-dasharray="7.1,6.1"/>
<path d="M79.60000000000001,101.1 H142.7" stroke="#0000ff" stroke-width="3.0" stroke-dasharray="1.6,6.4,7.0,6.5"/>
<path d="M79.9,136.6 H144.7" stroke="#ff8000" stroke-width="3.0" stroke-dasharray="1.6,6.67"/>
<path d="M78.7,172.5 H144.7" stroke="#00ff00" stroke-width="3.0"/>
<g font-family="Liberation Sans, sans-serif" font-weight="bold" font-size="16.2px" fill="#000">
<text x="65.35" y="348.5" text-anchor="middle">0.0</text>
<text x="168.78" y="348.5" text-anchor="middle">0.2</text>
<text x="272.21" y="348.5" text-anchor="middle">0.4</text>
<text x="375.64" y="348.5" text-anchor="middle">0.6</text>
<text x="479.07" y="348.5" text-anchor="middle">0.8</text>
<text x="582.50" y="348.5" text-anchor="middle">1.0</text>
<text x="60.0" y="334.75" text-anchor="end">0.0</text>
<text x="60.0" y="270.76" text-anchor="end">0.5</text>
<text x="60.0" y="206.77" text-anchor="end">1.0</text>
<text x="60.0" y="142.78" text-anchor="end">1.5</text>
<text x="60.0" y="78.79" text-anchor="end">2.0</text>
<text x="60.0" y="14.80" text-anchor="end">2.5</text>
</g>
<g font-family="Liberation Sans, sans-serif" fill="#000" stroke="#000">
<text x="155.6" y="36.00" font-style="italic" font-size="17.2px" stroke-width="0.75">ρ</text>
<text x="166.9" y="40.10" font-style="italic" font-size="14px" stroke-width="0.65">B</text>
<text x="178.2" y="36.00" font-size="17px" stroke-width="0.35">/</text>
<text x="183.6" y="36.00" font-style="italic" font-size="17.2px" stroke-width="0.75">ρ</text>
<text x="194.0" y="40.20" font-size="14px" stroke-width="0.55">0</text>
<text x="203.6" y="36.00" font-weight="bold" font-size="18px" stroke="none">=0</text>
<text x="155.6" y="71.90" font-style="italic" font-size="17.2px" stroke-width="0.75">ρ</text>
<text x="166.9" y="76.00" font-style="italic" font-size="14px" stroke-width="0.65">B</text>
<text x="178.2" y="71.90" font-size="17px" stroke-width="0.35">/</text>
<text x="183.6" y="71.90" font-style="italic" font-size="17.2px" stroke-width="0.75">ρ</text>
<text x="194.0" y="76.10" font-size="14px" stroke-width="0.55">0</text>
<text x="203.6" y="71.90" font-weight="bold" font-size="18px" stroke="none">=2</text>
<text x="155.6" y="107.60" font-style="italic" font-size="17.2px" stroke-width="0.75">ρ</text>
<text x="166.9" y="111.70" font-style="italic" font-size="14px" stroke-width="0.65">B</text>
<text x="178.2" y="107.60" font-size="17px" stroke-width="0.35">/</text>
<text x="183.6" y="107.60" font-style="italic" font-size="17.2px" stroke-width="0.75">ρ</text>
<text x="194.0" y="111.80" font-size="14px" stroke-width="0.55">0</text>
<text x="203.6" y="107.60" font-weight="bold" font-size="18px" stroke="none">=3</text>
<text x="155.6" y="143.10" font-style="italic" font-size="17.2px" stroke-width="0.75">ρ</text>
<text x="166.9" y="147.20" font-style="italic" font-size="14px" stroke-width="0.65">B</text>
<text x="178.2" y="143.10" font-size="17px" stroke-width="0.35">/</text>
<text x="183.6" y="143.10" font-style="italic" font-size="17.2px" stroke-width="0.75">ρ</text>
<text x="194.0" y="147.30" font-size="14px" stroke-width="0.55">0</text>
<text x="203.6" y="143.10" font-weight="bold" font-size="18px" stroke="none">=4</text>
<text x="155.6" y="179.00" font-style="italic" font-size="17.2px" stroke-width="0.75">ρ</text>
<text x="166.9" y="183.10" font-style="italic" font-size="14px" stroke-width="0.65">B</text>
<text x="178.2" y="179.00" font-size="17px" stroke-width="0.35">/</text>
<text x="183.6" y="179.00" font-style="italic" font-size="17.2px" stroke-width="0.75">ρ</text>
<text x="194.0" y="183.20" font-size="14px" stroke-width="0.55">0</text>
<text x="203.6" y="179.00" font-weight="bold" font-size="18px" stroke="none">=5</text>
</g>
<g font-family="Liberation Serif, serif" font-weight="bold" font-size="24px" fill="#000">
<text x="324" y="382.2" font-size="23.5px" text-anchor="middle">x</text>
<g transform="translate(24.1,275) rotate(-90)">
<text x="-0.2" y="0">x</text>
<path d="M28.6,-15.6 C28.6,-17.6 26.2,-17.9 25.0,-15.6 C23.8,-13.4 23.2,-10.5 21.6,-6 C20,-1.8 18.8,1.4 17.6,3.0 C16.6,4.4 15.0,4.6 14.4,3.5" fill="none" stroke="#000" stroke-width="2.3" stroke-linecap="round"/>
<path d="M23.3,-10.8 C22.7,-9 22.2,-7.6 21.6,-6 C20.9,-4 20.3,-2.4 19.7,-1.0" fill="none" stroke="#000" stroke-width="3.0" stroke-linecap="round"/>
<circle cx="28.4" cy="-15.5" r="1.55"/><circle cx="14.6" cy="3.3" r="1.55"/>
<path d="M19.4,-10.6 H26.4" stroke="#000" stroke-width="1.5"/>
<text x="25.8" y="3.7" font-size="18.5px">1</text>
<text x="34.5" y="0">(x</text>
<text x="55.4" y="0">,</text>
<text x="61.4" y="0">(</text>
<text x="71.0" y="0">0.2)</text>
<text x="109.4" y="-12" font-size="17.6px">2</text>
<text x="118.5" y="0">)</text>
<text x="127.2" y="0">[G</text>
<text x="154.8" y="0">eV</text>
<path d="M185.2,-15.4 H192.4" stroke="#000" stroke-width="1.9"/>
<text x="194.8" y="-12" font-size="17.6px">2</text>
<text x="204.2" y="0">]</text>
</g>
</g>
</svg>
</body></html>
